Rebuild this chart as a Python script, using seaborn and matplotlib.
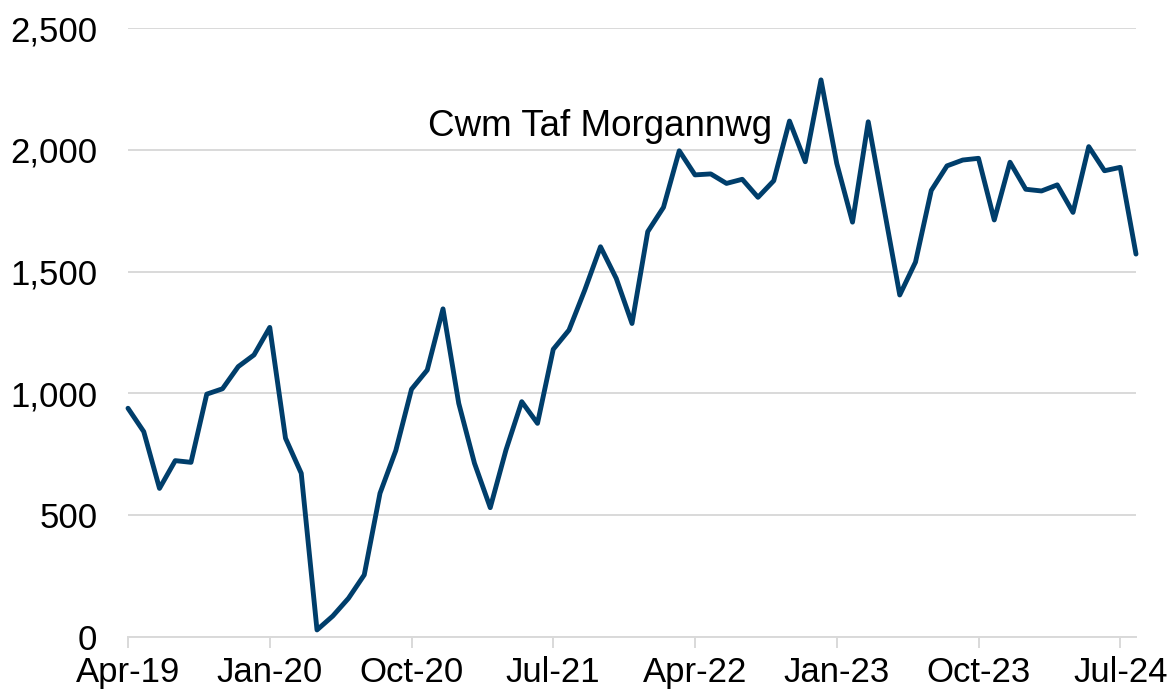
import matplotlib
matplotlib.use("Agg")
import matplotlib.pyplot as plt
import seaborn as sns
import pandas as pd
import numpy as np
from matplotlib.ticker import FuncFormatter, FixedLocator

# Monthly values Apr-19 .. Aug-24
months = pd.date_range("2019-04-01", "2024-08-01", freq="MS")
values = [939, 843, 610, 724, 717, 997, 1019, 1110, 1158, 1271,
          816, 672, 29, 86, 159, 255, 590, 765, 1017, 1096,
          1347, 959, 713, 531, 768, 966, 877, 1181, 1260, 1424,
          1602, 1472, 1287, 1664, 1764, 1996, 1897, 1901, 1862, 1879,
          1805, 1873, 2118, 1951, 2287, 1944, 1703, 2115, 1760, 1404,
          1539, 1833, 1934, 1958, 1965, 1712, 1949, 1838, 1831, 1856,
          1743, 2013, 1914, 1928, 1572]
series_label = "Cwm Taf Morgannwg"
tick_labels = ["Apr-19", "Jan-20", "Oct-20", "Jul-21", "Apr-22", "Jan-23", "Oct-23", "Jul-24"]
yticks = [0, 500, 1000, 1500, 2000, 2500]

df = pd.DataFrame({"idx": np.arange(len(values)), "value": values,
                   "label": [m.strftime("%b-%y") for m in months]})

sns.set_theme(style="white")
plt.rcParams["font.family"] = ["Liberation Sans", "DejaVu Sans"]

fig = plt.figure(figsize=(11.71, 6.94), dpi=100)
ax = fig.add_axes([128 / 1171, 1 - 637 / 694, (1136 - 128) / 1171, (637 - 28) / 694])

sns.lineplot(data=df, x="idx", y="value", ax=ax, color="#003E6B", linewidth=3.5)
for ln in ax.get_lines():
    ln.set_clip_on(False)
    ln.set_solid_capstyle("round")
    ln.set_solid_joinstyle("round")

ax.set_xlim(0, len(values) - 1)
ax.set_ylim(0, 2500)
ax.set_yticks(yticks)
ax.yaxis.set_major_formatter(FuncFormatter(lambda v, p: f"{int(v):,}"))
ax.yaxis.grid(True, color="#D9D9D9", linewidth=1.4)
ax.set_axisbelow(True)

tick_pos = [df.index[df["label"] == t][0] for t in tick_labels]
ax.xaxis.set_major_locator(FixedLocator(tick_pos))
ax.set_xticklabels(tick_labels)

for s in ["top", "right", "left"]:
    ax.spines[s].set_visible(False)
ax.spines["bottom"].set_color("#D9D9D9")
ax.spines["bottom"].set_linewidth(1.4)

ax.tick_params(axis="y", length=0, pad=22, labelsize=25, labelcolor="black")
ax.tick_params(axis="x", length=8, width=1.4, color="#D9D9D9", direction="out",
               pad=6, labelsize=25, labelcolor="black", bottom=True)
ax.set_xlabel("")
ax.set_ylabel("")

ax.text(19.05, 2094, series_label, fontsize=26.5, ha="left", va="center", color="black")

fig.savefig("out.png", dpi=100)
